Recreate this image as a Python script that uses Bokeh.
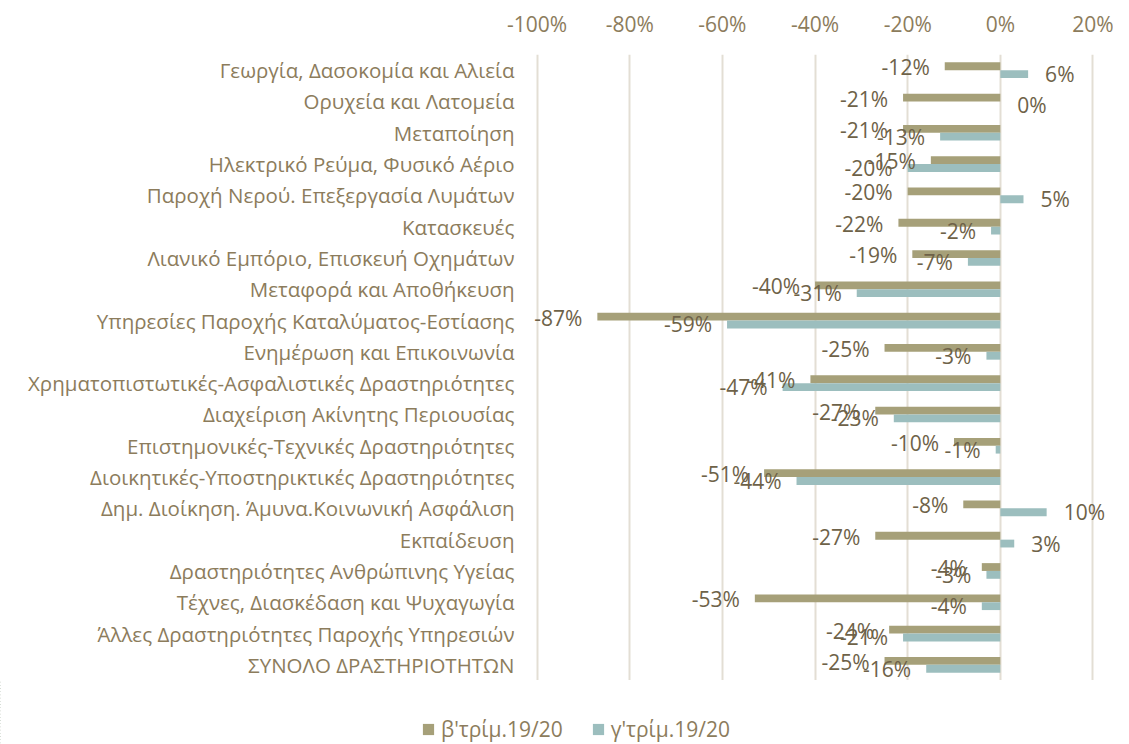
from bokeh.plotting import figure
from bokeh.layouts import column
from bokeh.models import (ColumnDataSource, Range1d, FactorRange, Legend, LegendItem,
                          PrintfTickFormatter, SingleIntervalTicker)
from bokeh.transform import dodge
from bokeh.embed import file_html
from bokeh.resources import INLINE
from bokeh.core.properties import value

categories = [
    "Γεωργία, Δασοκομία και Αλιεία",
    "Ορυχεία και Λατομεία",
    "Μεταποίηση",
    "Ηλεκτρικό Ρεύμα, Φυσικό Αέριο",
    "Παροχή Νερού. Επεξεργασία Λυμάτων",
    "Κατασκευές",
    "Λιανικό Εμπόριο, Επισκευή Οχημάτων",
    "Μεταφορά και Αποθήκευση",
    "Υπηρεσίες Παροχής Καταλύματος-Εστίασης",
    "Ενημέρωση και Επικοινωνία",
    "Χρηματοπιστωτικές-Ασφαλιστικές Δραστηριότητες",
    "Διαχείριση Ακίνητης Περιουσίας",
    "Επιστημονικές-Τεχνικές Δραστηριότητες",
    "Διοικητικές-Υποστηρικτικές Δραστηριότητες",
    "Δημ. Διοίκηση. Άμυνα.Κοινωνική Ασφάλιση",
    "Εκπαίδευση",
    "Δραστηριότητες Ανθρώπινης Υγείας",
    "Τέχνες, Διασκέδαση και Ψυχαγωγία",
    "Άλλες Δραστηριότητες Παροχής Υπηρεσιών",
    "ΣΥΝΟΛΟ ΔΡΑΣΤΗΡΙΟΤΗΤΩΝ",
]
q2_values = [-12, -21, -21, -15, -20, -22, -19, -40, -87, -25,
             -41, -27, -10, -51, -8, -27, -4, -53, -24, -25]
q3_values = [6, 0, -13, -20, 5, -2, -7, -31, -59, -3,
             -47, -23, -1, -44, 10, 3, -3, -4, -21, -16]
series_names = ["β'τρίμ.19/20", "γ'τρίμ.19/20"]
x_ticks_interval = 20

OLIVE = "#A6A079"
TEAL = "#9CBEBE"
CAT_COLOR = "#8C7C5C"
LBL_COLOR = "#6E6248"
GRID = "#E3DED4"
FONT = "Open Sans"

p = figure(width=1113, height=680,
           y_range=FactorRange(factors=list(reversed(categories))),
           x_range=Range1d(-101, 24),
           output_backend="svg", toolbar_location=None,
           x_axis_location="above",
           min_border_left=532, min_border_right=2,
           min_border_top=54, min_border_bottom=0)
p.outline_line_color = None
p.background_fill_color = "white"
p.border_fill_color = "white"

def label_cols(vals):
    offs = [-15 if v < 0 else 17 for v in vals]
    aligns = ["right" if v < 0 else "left" for v in vals]
    texts = [f"{v}%" for v in vals]
    return offs, aligns, texts

o2, a2, t2 = label_cols(q2_values)
o3, a3, t3 = label_cols(q3_values)
src = ColumnDataSource(dict(cat=categories, q2=q2_values, q3=q3_values,
                            o2=o2, a2=a2, t2=t2, o3=o3, a3=a3, t3=t3))

r1 = p.hbar(y=dodge("cat", 0.125, range=p.y_range), left=0, right="q2", height=0.25,
            source=src, fill_color=OLIVE, line_color=None)
r2 = p.hbar(y=dodge("cat", -0.125, range=p.y_range), left=0, right="q3", height=0.25,
            source=src, fill_color=TEAL, line_color=None)

p.text(x="q2", y=dodge("cat", 0.125, range=p.y_range), text="t2", x_offset="o2", y_offset=1,
       text_align="a2", text_baseline="middle", source=src,
       text_font=value(FONT), text_font_size="21px", text_color=LBL_COLOR)
p.text(x="q3", y=dodge("cat", -0.125, range=p.y_range), text="t3", x_offset="o3", y_offset=0,
       text_align="a3", text_baseline="middle", source=src,
       text_font=value(FONT), text_font_size="21px", text_color=LBL_COLOR)

xa = p.xaxis[0]
xa.ticker = SingleIntervalTicker(interval=x_ticks_interval)
xa.formatter = PrintfTickFormatter(format="%d%%")
xa.axis_line_color = None
xa.major_tick_line_color = None
xa.minor_tick_line_color = None
xa.major_tick_out = 0
xa.major_tick_in = 0
xa.major_label_text_font = FONT
xa.major_label_text_font_size = "21px"
xa.major_label_text_color = CAT_COLOR
xa.major_label_standoff = 13

ya = p.yaxis[0]
ya.axis_line_color = None
ya.major_tick_line_color = None
ya.minor_tick_line_color = None
ya.major_tick_out = 0
ya.major_tick_in = 0
ya.major_label_text_font = FONT
ya.major_label_text_font_size = "20.5px"
ya.major_label_text_color = CAT_COLOR
ya.major_label_standoff = 18

p.xgrid.grid_line_color = GRID
p.xgrid.grid_line_width = 2
p.ygrid.grid_line_color = None

# legend strip below the chart (proxy bars lie outside its visible x range)
lf = figure(width=1113, height=64, x_range=Range1d(11, 12),
            y_range=FactorRange(factors=list(reversed(categories))),
            output_backend="svg", toolbar_location=None,
            x_axis_location=None, y_axis_location=None,
            min_border_left=0, min_border_right=0, min_border_top=0, min_border_bottom=0)
lf.frame_align = False
lf.outline_line_color = None
lf.xgrid.visible = False
lf.ygrid.visible = False
l1 = lf.hbar(y="cat", left=0, right="q2", height=0.25, source=src, fill_color=OLIVE, line_color=None)
l2 = lf.hbar(y="cat", left=0, right="q3", height=0.25, source=src, fill_color=TEAL, line_color=None)
legend = Legend(items=[LegendItem(label=series_names[0], renderers=[l1], index=0),
                       LegendItem(label=series_names[1], renderers=[l2], index=0)],
                orientation="horizontal", location=(421, 1),
                glyph_width=14, glyph_height=14, label_height=16, label_standoff=6, spacing=28,
                padding=0, margin=0, border_line_color=None,
                background_fill_alpha=0,
                label_text_font=FONT, label_text_font_size="21px",
                label_text_color=CAT_COLOR)
lf.add_layout(legend, "center")

layout = column(p, lf, spacing=0)
open("out.html", "w").write(file_html(layout, INLINE))
